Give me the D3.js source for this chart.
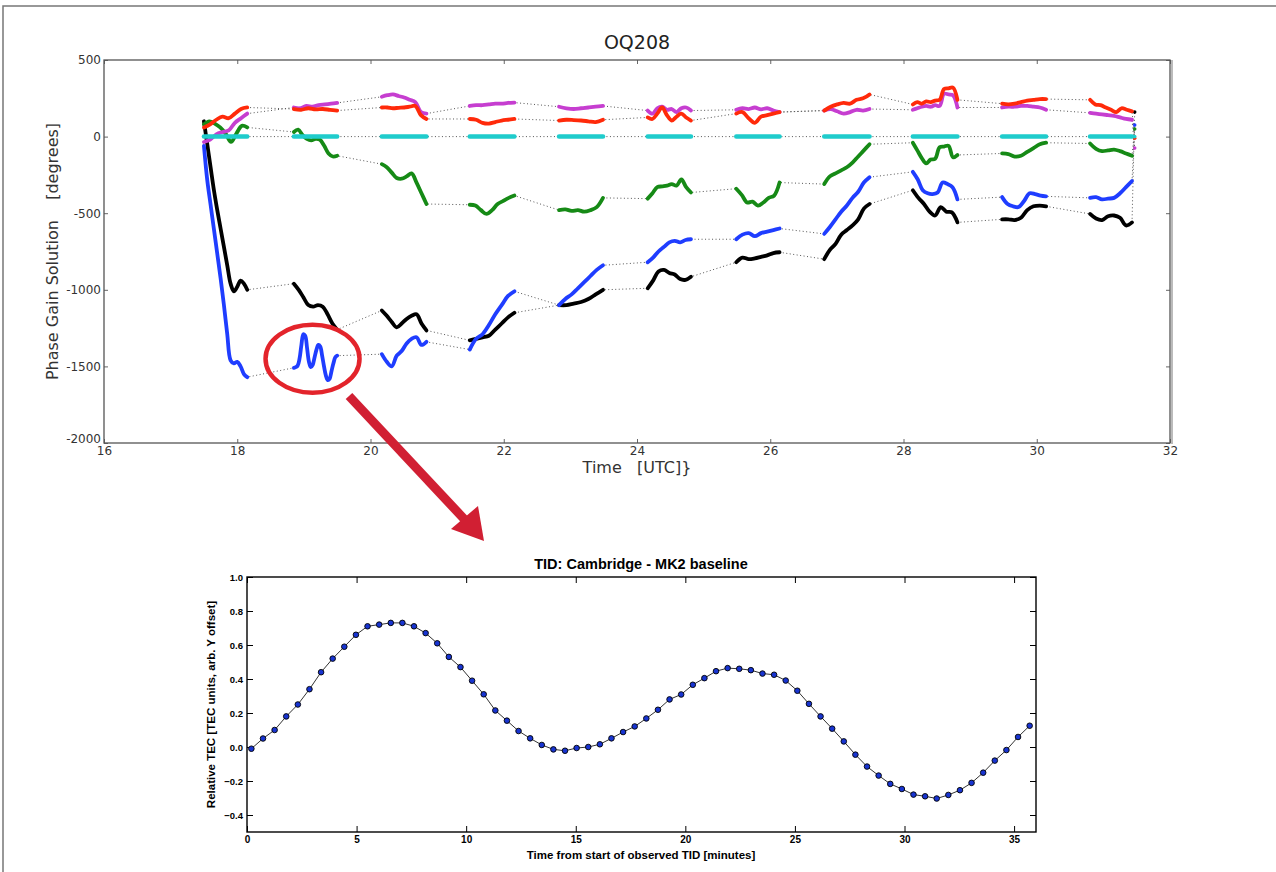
<!DOCTYPE html>
<html>
<head>
<meta charset="utf-8">
<script src="https://cdn.jsdelivr.net/npm/d3@7"></script>
<style>
body{margin:0;background:#fff;}
svg{display:block;}
text{font-family:"DejaVu Sans",sans-serif;}
.tid text{font-family:"Liberation Sans",Arial,sans-serif;font-weight:bold;}
</style>
</head>
<body>
<svg id="fig" width="1276" height="872"></svg>
<script>
// ---- top panel: scan blocks (hours UTC) ----
const segStart = [17.5, 18.85, 20.17, 21.49, 22.83, 24.16, 25.49, 26.81, 28.14, 29.48, 30.8, 31.47];
const segEnd   = [18.15, 19.5, 20.84, 22.16, 23.49, 24.81, 26.14, 27.49, 28.81, 30.14, 31.43, 31.47];

const redSegs = [
  [60, 80, 110, 130, 120, 150, 180, 190],
  [180, 175, 185, 178, 180, 175, 170],
  [190, 190, 185, 188, 190, 195, 200, 140, 115],
  [115, 110, 90, 85, 95, 105, 110, 115],
  [105, 110, 108, 105, 100, 95, 110],
  [125, 115, 150, 190, 140, 105, 130, 150, 125, 105],
  [150, 160, 120, 90, 130, 140, 150, 160],
  [170, 195, 210, 220, 215, 240, 250, 275],
  [210, 225, 215, 230, 225, 235, 240, 310, 315, 320, 240],
  [215, 210, 215, 225, 235, 240, 245, 245],
  [240, 210, 205, 190, 175, 160, 185, 175, 165],
  [-10]
];
const magentaSegs = [
  [-35, -20, 15, 30, 40, 90, 120, 150],
  [190, 185, 200, 195, 205, 210, 215, 220],
  [260, 270, 275, 265, 255, 240, 225, 160, 150],
  [200, 205, 205, 210, 215, 215, 220, 222],
  [195, 185, 180, 185, 190, 195, 200],
  [170, 150, 185, 195, 175, 180, 160, 185, 190, 170],
  [175, 185, 180, 190, 178, 185, 170, 160],
  [170, 180, 165, 150, 160, 175, 170, 180],
  [175, 185, 195, 200, 195, 205, 200, 280, 275, 270, 190],
  [190, 195, 195, 200, 200, 195, 190, 175],
  [155, 150, 145, 140, 135, 125, 115, 110],
  [-75]
];
const greenSegs = [
  [80, 100, 85, 60, 20, -35, 20, 70, 60],
  [30, 45, 10, -15, -25, -15, -20, -60, -110, -130, -125],
  [-180, -200, -235, -270, -275, -260, -240, -300, -370, -440],
  [-445, -450, -480, -505, -480, -440, -420, -400, -385],
  [-480, -475, -485, -480, -490, -480, -460, -400],
  [-405, -370, -330, -325, -320, -310, -320, -280, -330, -365],
  [-340, -380, -430, -425, -450, -430, -400, -385, -300],
  [-310, -260, -240, -220, -200, -170, -130, -90, -50],
  [-40, -90, -140, -175, -150, -145, -70, -65, -60, -135, -120],
  [-110, -115, -130, -125, -100, -75, -50, -40],
  [-45, -80, -95, -90, -85, -95, -110, -125],
  [50]
];
const blueSegs = [
  [-60, -285, -445, -605, -765, -925, -1100, -1290, -1460, -1480, -1470, -1500, -1550, -1570],
  [-1509, -1505, -1495, -1450, -1360, -1290, -1300, -1380, -1470, -1505, -1490, -1440,
   -1390, -1360, -1370, -1430, -1500, -1560, -1590, -1580, -1530, -1480, -1440, -1430],
  [-1420, -1470, -1500, -1430, -1400, -1350, -1320, -1310, -1360, -1340],
  [-1390, -1320, -1290, -1230, -1160, -1100, -1040, -1010],
  [-1100, -1060, -1030, -990, -950, -910, -870, -840],
  [-820, -790, -750, -720, -690, -680, -690, -675, -670],
  [-670, -640, -630, -650, -630, -620, -610, -600],
  [-635, -590, -540, -490, -450, -400, -360, -300, -265],
  [-230, -280, -350, -370, -375, -365, -300, -310, -330, -410],
  [-395, -440, -455, -460, -420, -370, -375, -385, -390],
  [-400, -395, -410, -405, -400, -370, -330, -290],
  [75]
];
const blackSegs = [
  [100, -50, -200, -350, -480, -600, -720, -840, -960, -1010, -980, -940, -960, -1000],
  [-960, -1000, -1050, -1100, -1110, -1100, -1110, -1160, -1220, -1260],
  [-1135, -1170, -1210, -1245, -1220, -1190, -1170, -1160, -1220, -1265],
  [-1330, -1320, -1310, -1300, -1260, -1220, -1180, -1150],
  [-1100, -1100, -1090, -1080, -1060, -1030, -1000],
  [-990, -940, -880, -870, -890, -900, -930, -935, -915],
  [-820, -790, -800, -795, -785, -775, -760, -755],
  [-800, -740, -700, -640, -610, -580, -540, -470, -440],
  [-350, -400, -440, -490, -515, -460, -490, -495, -560],
  [-540, -540, -545, -530, -480, -455, -450, -455],
  [-505, -535, -545, -520, -515, -530, -580, -560],
  [160]
];
const cyanSegs = [[0, 0], [0, 0], [0, 0], [0, 0], [0, 0], [0, 0], [0, 0], [0, 0], [0, 0], [0, 0], [0, 0], [0]];

const topXTicks = [16, 18, 20, 22, 24, 26, 28, 30, 32];
const topYTicks = [-2000, -1500, -1000, -500, 0, 500];

// ---- bottom panel: TID on Cambridge - MK2 baseline ----
const tidTime = [0.2, 0.73, 1.26, 1.79, 2.32, 2.85, 3.38, 3.91, 4.44, 4.97,
  5.5, 6.03, 6.56, 7.09, 7.62, 8.15, 8.68, 9.21, 9.74, 10.27,
  10.8, 11.33, 11.86, 12.39, 12.92, 13.45, 13.98, 14.51, 15.04, 15.57,
  16.1, 16.63, 17.16, 17.69, 18.22, 18.75, 19.28, 19.81, 20.34, 20.87,
  21.4, 21.93, 22.46, 22.99, 23.52, 24.05, 24.58, 25.11, 25.64, 26.17,
  26.7, 27.23, 27.76, 28.29, 28.82, 29.35, 29.88, 30.41, 30.94, 31.47,
  32.0, 32.53, 33.06, 33.59, 34.12, 34.65, 35.18, 35.71];
const tidTec = [-0.01, 0.05, 0.10, 0.18, 0.25, 0.34, 0.44, 0.52, 0.59, 0.66,
  0.71, 0.72, 0.73, 0.73, 0.71, 0.67, 0.61, 0.53, 0.47, 0.39,
  0.31, 0.215, 0.155, 0.094, 0.051, 0.012, -0.014, -0.022, -0.006, 0.0,
  0.016, 0.051, 0.088, 0.121, 0.168, 0.219, 0.28, 0.309, 0.366, 0.405,
  0.446, 0.464, 0.46, 0.452, 0.432, 0.425, 0.391, 0.331, 0.254, 0.18,
  0.108, 0.033, -0.045, -0.115, -0.168, -0.217, -0.247, -0.28, -0.29, -0.303,
  -0.282, -0.254, -0.211, -0.151, -0.08, -0.018, 0.059, 0.125];
const tidXTicks = [0, 5, 10, 15, 20, 25, 30, 35];
const tidYTicks = [-0.4, -0.2, 0.0, 0.2, 0.4, 0.6, 0.8, 1.0];

const svg = d3.select('#fig');

// page frame
svg.append('path')
  .attr('d', 'M3,872V6H1276')
  .attr('fill', 'none')
  .attr('stroke', '#777')
  .attr('stroke-width', 1.5);

// ================= top panel =================
const x1 = d3.scaleLinear().domain([16, 32]).range([104, 1170]);
const y1 = d3.scaleLinear().domain([-2000, 500]).range([443, 60]);

const topPanel = svg.append('g');

topPanel.append('text')
  .attr('x', 637).attr('y', 49)
  .attr('text-anchor', 'middle')
  .attr('font-size', 19)
  .attr('fill', '#222')
  .text('OQ208');

const styleAxis = (g, size, col) => {
  g.select('.domain').remove();
  g.selectAll('line').attr('stroke', col);
  g.selectAll('text').attr('font-size', size).attr('fill', '#333');
};

topPanel.append('g').attr('transform', 'translate(0,443)')
  .call(d3.axisBottom(x1).tickValues(topXTicks).tickSize(-4).tickPadding(3).tickFormat(d => String(d)))
  .call(g => styleAxis(g, 12, '#666'));
topPanel.append('g').attr('transform', 'translate(0,60)')
  .call(d3.axisTop(x1).tickValues(topXTicks).tickSize(-4).tickFormat(''))
  .call(g => styleAxis(g, 12, '#666'));
topPanel.append('g').attr('transform', 'translate(104,0)')
  .call(d3.axisLeft(y1).tickValues(topYTicks).tickSize(-4).tickPadding(3).tickFormat(d => String(d)))
  .call(g => styleAxis(g, 12, '#666'))
  .call(g => g.selectAll('.tick text').filter(d => d === -2000).attr('dy', '-0.05em'));
topPanel.append('g').attr('transform', 'translate(1170,0)')
  .call(d3.axisRight(y1).tickValues(topYTicks).tickSize(-4).tickFormat(''))
  .call(g => styleAxis(g, 12, '#666'));

topPanel.append('text')
  .attr('transform', 'translate(58,' + y1(-750) + ') rotate(-90)')
  .attr('text-anchor', 'middle')
  .attr('font-size', 16)
  .attr('fill', '#333')
  .style('white-space', 'pre')
  .text('Phase Gain Solution    [degrees]');

topPanel.append('text')
  .attr('x', 637).attr('y', 473)
  .attr('text-anchor', 'middle')
  .attr('font-size', 16)
  .attr('fill', '#333')
  .style('white-space', 'pre')
  .text('Time   [UTC]}');

const toPts = (vals, i) => vals.map((v, k) => [
  segStart[i] + (segEnd[i] - segStart[i]) * (vals.length === 1 ? 0 : k / (vals.length - 1)), v
]);

const series = [
  { segs: blackSegs, color: '#000000' },
  { segs: blueSegs, color: '#1f3dff' },
  { segs: greenSegs, color: '#168a16' },
  { segs: magentaSegs, color: '#c63ed0' },
  { segs: redSegs, color: '#ff2a0a' },
  { segs: cyanSegs, color: '#1fcccc' }
];

const line1 = d3.line().x(d => x1(d[0])).y(d => y1(d[1]));
const smooth1 = d3.line().x(d => x1(d[0])).y(d => y1(d[1])).curve(d3.curveCatmullRom.alpha(0.5));

const plot = topPanel.append('g');

// dotted links through every scan of each series
series.forEach(s => {
  const all = s.segs.flatMap((vals, i) => toPts(vals, i));
  plot.append('path')
    .attr('d', line1(all))
    .attr('fill', 'none')
    .attr('stroke', '#555')
    .attr('stroke-width', 1)
    .attr('stroke-dasharray', '1,2.5');
});

// dense dot markers drawn as thick strokes per scan
series.forEach(s => {
  s.segs.forEach((vals, i) => {
    const pts = toPts(vals, i);
    if (pts.length === 1) {
      plot.append('circle')
        .attr('cx', x1(pts[0][0])).attr('cy', y1(pts[0][1]))
        .attr('r', 1.8).attr('fill', s.color);
    } else {
      plot.append('path')
        .attr('d', smooth1(pts))
        .attr('fill', 'none')
        .attr('stroke', s.color)
        .attr('stroke-width', s.color === '#1fcccc' ? 4.5 : 3.8)
        .attr('stroke-linecap', 'round')
        .attr('stroke-linejoin', 'round');
    }
  });
});

// axes frame
topPanel.append('rect')
  .attr('x', 104).attr('y', 60)
  .attr('width', 1066).attr('height', 383)
  .attr('fill', 'none')
  .attr('stroke', '#555')
  .attr('stroke-width', 1.3);
topPanel.append('line')
  .attr('x1', 1172).attr('x2', 1172).attr('y1', 60).attr('y2', 444)
  .attr('stroke', '#bbb').attr('stroke-width', 2);

// ================= bottom panel =================
const x2 = d3.scaleLinear().domain([0, 36]).range([247, 1036]);
const y2 = d3.scaleLinear().domain([-0.5, 1.0]).range([832, 577]);

const tid = svg.append('g').attr('class', 'tid');

tid.append('text')
  .attr('x', 641).attr('y', 569)
  .attr('text-anchor', 'middle')
  .attr('font-size', 14.5)
  .attr('fill', '#000')
  .text('TID: Cambridge - MK2 baseline');

const fmt = d => d3.format('.1f')(d);

tid.append('g').attr('transform', 'translate(0,832)')
  .call(d3.axisBottom(x2).tickValues(tidXTicks).tickSize(-6).tickPadding(4).tickFormat(d => String(d)))
  .call(g => styleAxis(g, 10, '#000'));
tid.append('g').attr('transform', 'translate(0,577)')
  .call(d3.axisTop(x2).tickValues(tidXTicks).tickSize(-6).tickFormat(''))
  .call(g => styleAxis(g, 10, '#000'));
tid.append('g').attr('transform', 'translate(247,0)')
  .call(d3.axisLeft(y2).tickValues(tidYTicks).tickSize(-6).tickPadding(4).tickFormat(fmt))
  .call(g => styleAxis(g, 9.5, '#000'));
tid.append('g').attr('transform', 'translate(1036,0)')
  .call(d3.axisRight(y2).tickValues(tidYTicks).tickSize(-6).tickFormat(''))
  .call(g => styleAxis(g, 10, '#000'));
tid.selectAll('.tick text').attr('fill', '#000');

tid.append('text')
  .attr('x', 641).attr('y', 859)
  .attr('text-anchor', 'middle')
  .attr('font-size', 11.5)
  .text('Time from start of observed TID [minutes]');

tid.append('text')
  .attr('transform', 'translate(215,' + y2(0.25) + ') rotate(-90)')
  .attr('text-anchor', 'middle')
  .attr('font-size', 11.5)
  .text('Relative TEC [TEC units, arb. Y offset]');

const tidPts = tidTime.map((t, i) => [t, tidTec[i]]);
const line2 = d3.line().x(d => x2(d[0])).y(d => y2(d[1]));

tid.append('path')
  .attr('d', line2(tidPts))
  .attr('fill', 'none')
  .attr('stroke', '#333')
  .attr('stroke-width', 1);

tid.selectAll('circle.pt')
  .data(tidPts)
  .enter()
  .append('circle')
  .attr('class', 'pt')
  .attr('cx', d => x2(d[0]))
  .attr('cy', d => y2(d[1]))
  .attr('r', 2.8)
  .attr('fill', '#1834d0')
  .attr('stroke', '#000')
  .attr('stroke-width', 0.9);

tid.append('rect')
  .attr('x', 247).attr('y', 577)
  .attr('width', 789).attr('height', 255)
  .attr('fill', 'none')
  .attr('stroke', '#000')
  .attr('stroke-width', 1.4);

// ================= annotation: circle + arrow =================
const note = svg.append('g');
note.append('ellipse')
  .attr('cx', x1(19.13)).attr('cy', y1(-1450))
  .attr('rx', 47).attr('ry', 34)
  .attr('fill', 'none')
  .attr('stroke', '#e3242b')
  .attr('stroke-width', 4.5);

note.append('line')
  .attr('x1', 349).attr('y1', 396)
  .attr('x2', 466).attr('y2', 521)
  .attr('stroke', '#d11f33')
  .attr('stroke-width', 9);
note.append('polygon')
  .attr('points', '451,529 478,506 484,541')
  .attr('fill', '#d11f33');
</script>
</body>
</html>
